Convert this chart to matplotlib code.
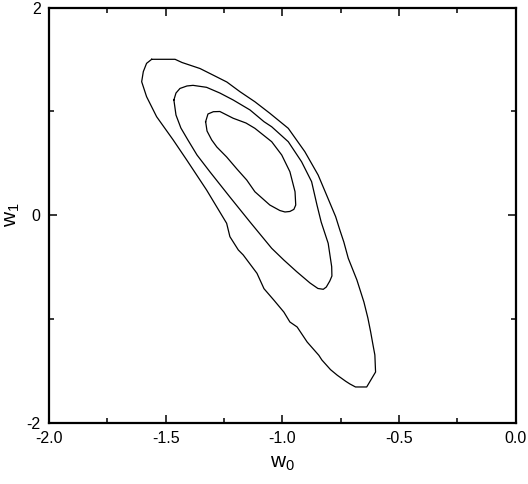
import matplotlib
matplotlib.use('Agg')
import matplotlib.pyplot as plt
from matplotlib.ticker import MultipleLocator, FixedLocator

plt.rcParams['font.family'] = ['Liberation Sans', 'DejaVu Sans']
plt.rcParams['mathtext.fontset'] = 'custom'
plt.rcParams['mathtext.rm'] = 'Liberation Sans'

# contour levels (w0, w1), outer -> inner
outer_w0 = [-1.560, -1.460, -1.430, -1.353, -1.298, -1.238, -1.182, -1.118, -1.054,
            -0.975, -0.904, -0.847, -0.811, -0.772, -0.754, -0.737, -0.718,
            -0.681, -0.651, -0.634, -0.622, -0.612, -0.604, -0.601, -0.639, -0.687,
            -0.711, -0.729, -0.765, -0.794, -0.831, -0.844, -0.894, -0.937, -0.968,
            -0.994, -1.036, -1.079, -1.109, -1.139, -1.168, -1.189, -1.225, -1.239,
            -1.325, -1.410, -1.468, -1.539, -1.582, -1.603, -1.596, -1.582, -1.560]
outer_w1 = [1.501, 1.501, 1.470, 1.412, 1.350, 1.282, 1.189, 1.092, 0.981,
            0.836, 0.611, 0.386, 0.194, -0.015, -0.144, -0.259, -0.416,
            -0.625, -0.837, -0.991, -1.126, -1.251, -1.348, -1.512, -1.656, -1.656,
            -1.627, -1.601, -1.543, -1.489, -1.396, -1.351, -1.223, -1.078, -1.030,
            -0.934, -0.821, -0.709, -0.561, -0.471, -0.384, -0.336, -0.208, -0.079,
            0.242, 0.531, 0.724, 0.948, 1.141, 1.285, 1.382, 1.462, 1.501]

middle_w0 = [-1.465, -1.456, -1.439, -1.409, -1.383, -1.325, -1.268, -1.211, -1.139,
             -1.079, -1.046, -0.975, -0.918, -0.875, -0.852, -0.834, -0.804, -0.789,
             -0.788, -0.797, -0.812, -0.825, -0.848, -0.882, -0.939, -0.994, -1.046,
             -1.139, -1.225, -1.310, -1.366, -1.405, -1.435, -1.456, -1.465]
middle_w1 = [1.109, 1.176, 1.220, 1.244, 1.250, 1.231, 1.176, 1.109, 1.013,
             0.900, 0.851, 0.707, 0.514, 0.322, 0.097, -0.067, -0.272, -0.497,
             -0.587, -0.635, -0.693, -0.715, -0.707, -0.654, -0.545, -0.433, -0.320,
             -0.066, 0.174, 0.415, 0.579, 0.724, 0.839, 0.964, 1.109]

inner_w0 = [-1.329, -1.319, -1.296, -1.268, -1.211, -1.156, -1.118, -1.046, -1.003,
            -0.968, -0.946, -0.943, -0.951, -0.968, -0.989, -1.011, -1.054, -1.118,
            -1.153, -1.195, -1.239, -1.281, -1.303, -1.323, -1.329]
inner_w1 = [0.900, 0.974, 0.996, 0.998, 0.933, 0.887, 0.836, 0.707, 0.579,
            0.418, 0.225, 0.097, 0.055, 0.035, 0.030, 0.044, 0.097, 0.225,
            0.338, 0.444, 0.560, 0.656, 0.724, 0.810, 0.900]

fig = plt.figure(figsize=(5.28, 4.84), dpi=100)
ax = fig.add_axes([0.0928, 0.1267, 0.8842, 0.8578])

for xs, ys in [(outer_w0, outer_w1), (middle_w0, middle_w1), (inner_w0, inner_w1)]:
    ax.plot(xs, ys, color='black', lw=0.9)

ax.set_xlim(-2.0, 0.0)
ax.set_ylim(-2, 2)
ax.xaxis.set_major_locator(MultipleLocator(0.5))
ax.xaxis.set_minor_locator(MultipleLocator(0.25))
ax.yaxis.set_major_locator(FixedLocator([-2, 0, 2]))
ax.yaxis.set_minor_locator(FixedLocator([-1, 1]))
ax.xaxis.set_major_formatter(matplotlib.ticker.FormatStrFormatter('%.1f'))
ax.yaxis.set_major_formatter(matplotlib.ticker.FormatStrFormatter('%d'))

ax.tick_params(which='both', direction='in', top=True, right=True, width=1.1, labelsize=11.5, pad=6)
ax.tick_params(which='major', length=6)
ax.tick_params(which='minor', length=3.6)
for s in ax.spines.values():
    s.set_linewidth(1.6)

ax.set_xlabel(r'$\mathregular{w_0}$', fontsize=15, labelpad=6)
ax.set_ylabel(r'$\mathregular{w_1}$', fontsize=15, labelpad=3)

plt.savefig('out.png', dpi=100)
